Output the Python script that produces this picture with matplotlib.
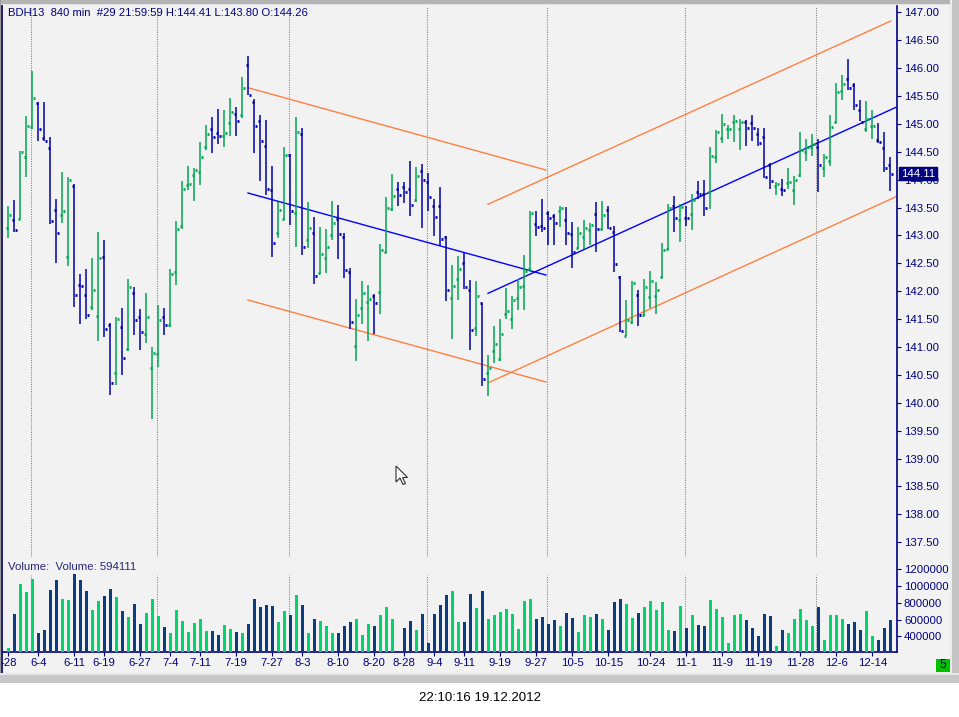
import matplotlib
matplotlib.use("Agg")
import matplotlib.pyplot as plt
from matplotlib.patches import Rectangle, Polygon
from matplotlib.transforms import blended_transform_factory
import numpy as np

plt.rcParams['font.family'] = ['Liberation Sans', 'DejaVu Sans']

# ---------------- data ----------------
opens = [143.13,143.27,143.30,144.40,144.94,145.37,144.74,144.56,143.45,143.36,
         142.62,143.88,142.12,141.94,141.71,141.55,142.61,141.39,140.53,141.35,
         140.96,141.96,141.53,141.24,140.62,140.87,141.54,141.39,142.35,143.16,
         143.90,144.09,144.13,144.58,144.90,144.83,144.78,145.01,145.17,145.15,
         146.05,145.40,145.06,144.61,143.81,143.04,143.29,144.45,143.41,144.81,
         142.91,143.04,142.32,142.59,143.00,143.29,142.97,142.34,141.02,141.70,
         141.80,141.91,141.98,142.70,143.47,143.84,143.86,143.83,143.63,144.15,
         143.96,143.53,143.53,142.98,141.87,142.21,142.50,142.02,141.34,141.78,
         140.53,140.92,140.78,141.60,141.51,141.87,142.10,142.39,143.20,143.17,
         143.40,143.35,143.43,143.27,143.02,142.77,142.98,143.09,143.38,143.11,
         143.45,143.07,142.25,141.19,141.44,141.93,141.57,141.89,141.91,142.26,
         142.75,143.52,143.27,143.32,143.38,143.77,143.75,143.77,144.40,144.74,
         144.90,145.03,144.90,145.03,145.02,144.82,144.76,144.27,143.89,143.84,
         143.94,143.81,144.09,144.50,144.58,144.58,144.20,144.33,145.03,145.59,
         145.80,145.69,145.24,144.91,144.97,144.71,144.57,144.26]
highs = [143.53,143.63,144.51,145.14,145.95,145.39,145.39,144.76,143.65,144.14,
         144.05,143.93,142.31,142.40,142.59,143.06,142.92,141.43,141.53,141.70,
         142.22,142.08,141.68,141.97,141.00,141.75,141.70,142.40,143.26,143.98,
         144.24,144.21,144.67,144.98,145.12,145.27,145.24,145.46,145.30,145.84,
         146.22,145.44,145.16,145.07,144.24,143.60,144.59,144.46,145.12,144.93,
         143.60,143.33,143.15,143.11,143.62,143.55,143.05,142.41,141.86,142.18,
         142.12,141.95,142.85,143.69,144.10,143.95,143.96,144.33,144.23,144.28,
         144.12,143.65,143.87,142.99,142.47,142.63,142.68,142.20,142.18,141.78,
         140.86,141.38,141.50,142.06,141.91,142.21,142.65,143.43,143.43,143.65,
         143.43,143.39,143.52,143.51,143.24,143.15,143.27,143.23,143.60,143.62,
         143.53,143.17,142.28,141.84,142.18,142.03,142.21,142.36,142.16,142.86,
         143.57,143.71,143.57,143.53,143.74,143.98,143.99,144.59,144.89,145.18,
         144.98,145.16,145.09,145.07,145.15,144.92,144.92,144.29,143.96,144.02,
         144.21,144.07,144.85,144.73,144.81,144.73,144.46,145.16,145.73,145.88,
         146.16,145.73,145.42,145.41,145.25,145.02,144.85,144.41]
lows = [142.96,143.07,143.29,144.04,144.90,144.70,144.69,143.21,142.51,143.23,
        142.46,141.72,141.42,141.51,141.67,141.11,141.17,140.14,140.32,140.49,
        140.92,141.21,140.95,141.08,139.70,140.65,141.21,141.35,142.11,143.11,
        143.81,143.62,143.90,144.53,144.48,144.64,144.59,144.79,144.79,145.10,
        145.51,144.48,143.98,143.72,142.62,142.96,143.27,143.19,142.80,142.65,
        142.78,142.13,142.31,142.33,142.91,142.58,142.24,141.32,140.75,141.42,
        141.11,141.23,141.59,142.68,143.43,143.52,143.59,143.35,143.60,143.14,
        143.43,142.99,142.81,141.83,141.15,141.85,142.04,140.95,141.19,140.30,
        140.13,140.72,140.74,141.50,141.32,141.67,141.67,142.34,142.99,143.07,
        142.83,142.82,143.15,142.83,142.42,142.75,142.75,142.83,142.70,143.09,
        143.11,142.34,141.26,141.19,141.42,141.38,141.56,141.69,141.60,142.24,
        142.73,143.07,142.89,143.17,143.10,143.66,143.35,143.48,144.29,144.65,
        144.73,144.68,144.54,144.61,144.70,144.60,144.03,143.84,143.72,143.71,
        143.84,143.55,144.04,144.34,144.43,143.78,144.04,144.25,145.02,145.43,
        145.61,145.25,145.06,144.86,144.73,144.65,144.13,143.80]
closes = [143.36,143.09,144.49,144.97,145.47,144.90,144.69,143.25,143.05,143.43,
          143.99,141.94,142.10,141.58,142.03,142.59,141.33,140.35,141.51,140.81,
          142.07,141.48,141.26,141.53,140.89,141.49,141.40,142.30,143.11,143.84,
          143.93,144.17,144.40,144.81,144.76,144.79,144.83,145.21,145.06,145.64,
          145.51,144.97,144.69,143.84,142.86,143.45,144.45,143.43,144.85,142.80,
          143.14,142.28,142.66,142.80,143.23,143.02,142.38,141.44,141.58,141.96,
          141.86,141.78,142.73,143.49,143.70,143.72,143.77,143.54,144.06,143.99,
          143.69,143.33,142.93,142.02,142.10,142.39,142.07,141.30,141.91,140.42,
          140.63,141.05,141.23,141.64,141.85,142.07,142.37,143.40,143.15,143.14,
          143.32,143.23,143.49,143.05,142.71,143.05,143.13,143.19,143.11,143.36,
          143.14,142.48,141.28,141.48,142.14,141.57,142.07,142.19,142.02,142.73,
          143.50,143.32,143.51,143.31,143.63,143.75,143.49,144.42,144.85,144.99,
          144.91,145.06,145.03,144.92,144.93,144.65,144.04,143.97,143.92,143.81,
          143.95,143.99,144.53,144.58,144.63,144.27,144.40,144.94,145.57,145.72,
          145.64,145.34,145.03,145.09,144.97,144.67,144.20,144.11]
volumes = [264000,670000,1028000,933000,1088000,443000,479000,957000,1072000,849000,
           837000,1148000,1076000,945000,718000,825000,885000,969000,873000,706000,
           634000,790000,551000,682000,849000,646000,515000,443000,718000,587000,
           455000,563000,607000,467000,467000,420000,535000,487000,455000,443000,
           547000,849000,754000,778000,766000,575000,706000,658000,897000,778000,
           443000,611000,587000,523000,443000,443000,527000,575000,611000,420000,
           551000,527000,658000,754000,611000,224000,503000,587000,479000,670000,
           324000,670000,778000,897000,945000,575000,575000,909000,742000,941000,
           607000,654000,690000,726000,666000,487000,822000,845000,607000,631000,
           547000,595000,523000,678000,619000,451000,654000,631000,666000,607000,
           475000,810000,845000,786000,619000,678000,750000,822000,714000,810000,
           475000,463000,762000,499000,654000,535000,523000,833000,726000,631000,
           320000,654000,666000,595000,499000,404000,666000,642000,284000,475000,
           439000,607000,726000,595000,523000,750000,356000,654000,654000,607000,
           547000,571000,475000,702000,404000,356000,499000,594111]

date_ticks = [0,5,11,16,22,27,32,38,44,49,55,61,66,71,76,82,88,94,100,107,113,119,125,132,138,144]
date_labels = ["-28","6-4","6-11","6-19","6-27","7-4","7-11","7-19","7-27","8-3","8-10",
               "8-20","8-28","9-4","9-11","9-19","9-27","10-5","10-15","10-24","11-1",
               "11-9","11-19","11-28","12-6","12-14"]
month_breaks = [3.7, 24.7, 46.7, 69.7, 89.7, 112.7, 134.7]

# drawn trend lines: (x0, y0, x1, y1) in bar index / price
orange_lines = [(39.95, 145.648, 89.6, 144.173),
                (39.95, 141.842, 89.6, 140.372),
                (79.95, 143.558, 147.07, 146.844),
                (80.1, 140.363, 147.95, 143.694)]
blue_lines = [(39.95, 143.760, 89.6, 142.290),
              (79.95, 141.962, 147.95, 145.297)]

price_ticks = [137.5 + 0.5 * i for i in range(20)]
vol_ticks = [400000, 600000, 800000, 1000000, 1200000]

# ---------------- figure ----------------
W, H = 959, 717
fig = plt.figure(figsize=(W / 100, H / 100), dpi=100)
fig.patch.set_facecolor('white')

def prect(x0, y0, x1, y1, color, z=0):
    fig.add_artist(Rectangle((x0 / W, 1 - y1 / H), (x1 - x0) / W, (y1 - y0) / H,
                             transform=fig.transFigure, facecolor=color,
                             edgecolor='none', zorder=z))

prect(0, 0, 959, 673, '#f2f2f2', -10)
prect(0, 0, 959, 4, '#b4b4b4', -9)
prect(0, 4, 959, 5, '#e4e4e4', -9)
prect(0, 0, 1, 673, '#9a9a9a', -9)
prect(1, 5, 3, 673, '#23237a', -9)
prect(950, 0, 952, 683, '#ececec', -9)
prect(952, 0, 959, 683, '#c4c4c4', -9)
prect(0, 673, 959, 675, '#e8e8e8', -9)
prect(0, 675, 959, 683, '#c8c8c8', -9)

NAVY = '#000080'
GREEN_P = '#00a651'
BLUE_P = '#0000aa'
GREEN_V = '#00d46a'
BLUE_V = '#0b3c80'
ORANGE = '#ff8040'

xl = ((3 - 8.3) / 6, (897 - 8.3) / 6)

ax = fig.add_axes([3 / W, 1 - 557 / H, 894 / W, 551 / H])
ax.set_facecolor('none')
ax.set_xlim(*xl)
ax.set_ylim(147 - (557 - 12.3) / 55.78, 147 - (6 - 12.3) / 55.78)

x = np.arange(len(opens))
o = np.array(opens); h = np.array(highs); l = np.array(lows); c = np.array(closes)
up = c >= o
cols = np.where(up, GREEN_P, BLUE_P)

for xb in month_breaks:
    ax.axvline(xb, color='#7a7a7a', lw=0.75, ls=(0, (1, 1.3)), zorder=1)

for (x0, y0, x1, y1) in orange_lines:
    ax.plot([x0, x1], [y0, y1], color=ORANGE, lw=1.0, zorder=2)
for (x0, y0, x1, y1) in blue_lines:
    ax.plot([x0, x1], [y0, y1], color='#0000ff', lw=1.0, zorder=2)

ax.vlines(x, l, h, colors=cols, lw=1.1, zorder=3)
ax.hlines(o, x - 0.45, x - 0.05, colors=cols, lw=2.0, zorder=3)
ax.hlines(c, x + 0.05, x + 0.45, colors=cols, lw=2.0, zorder=3)

for s in ['left', 'top', 'bottom']:
    ax.spines[s].set_visible(False)
ax.spines['right'].set_color(NAVY)
ax.spines['right'].set_linewidth(1.2)
ax.set_xticks([])
ax.yaxis.tick_right()
ax.set_yticks(price_ticks)
ax.set_yticklabels([f"{v:.2f}" for v in price_ticks])
ax.tick_params(axis='y', direction='out', length=3, width=0.8, color=NAVY,
               labelcolor=NAVY, labelsize=8.2, pad=2)

tr = blended_transform_factory(ax.transAxes, ax.transData)
ax.text(1.0045, closes[-1], f"{closes[-1]:.2f}", transform=tr, color='white',
        fontsize=8.2, va='center', ha='left', zorder=5,
        bbox=dict(boxstyle='square,pad=0.15', fc=NAVY, ec=NAVY))

# ---------------- volume panel ----------------
ax2 = fig.add_axes([3 / W, 1 - 652 / H, 894 / W, 94 / H])
ax2.set_facecolor('none')
ax2.set_xlim(*xl)
vb = 400000 - (652 - 636.3) / 16.75 * 200000
vt = 400000 + (636.3 - 558) / 16.75 * 200000
ax2.set_ylim(vb, vt)
vcols = np.where(up, GREEN_V, BLUE_V)
ax2.bar(x, volumes, width=0.5, bottom=0, color=vcols, zorder=3)
for xb in month_breaks:
    ax2.axvline(xb, ymax=0.82, color='#7a7a7a', lw=0.75, ls=(0, (1, 1.3)), zorder=1)
ax2.spines['left'].set_visible(False)
ax2.spines['top'].set_visible(False)
ax2.spines['right'].set_color(NAVY)
ax2.spines['right'].set_linewidth(1.2)
ax2.spines['bottom'].set_color(NAVY)
ax2.spines['bottom'].set_linewidth(1.2)
ax2.yaxis.tick_right()
ax2.set_yticks(vol_ticks)
ax2.set_yticklabels([str(v) for v in vol_ticks])
ax2.tick_params(axis='y', direction='out', length=3, width=0.8, color=NAVY,
                labelcolor=NAVY, labelsize=8.2, pad=2)
ax2.set_xticks(date_ticks)
ax2.set_xticklabels(date_labels)
ax2.tick_params(axis='x', direction='out', length=3, width=0.8, color=NAVY,
                labelcolor=NAVY, labelsize=8.2, pad=1.5)

ax2.text(5 / 894, 1 - (567 - 558) / 94, "Volume:  Volume: 594111", transform=ax2.transAxes,
         color='#26267a', fontsize=8.2, va='center', ha='left')

# ---------------- header / misc text ----------------
fig.text(8 / W, 1 - 13.5 / H, "BDH13  840 min  #29 21:59:59 H:144.41 L:143.80 O:144.26",
         color=NAVY, fontsize=8.1, va='center', ha='left')

prect(936, 659, 950, 672, '#00c000', 1)
fig.text(943 / W, 1 - 665.5 / H, "5", color='#000060', fontsize=8.5, va='center', ha='center', zorder=2)

fig.text(480 / W, 1 - 698 / H, "22:10:16 19.12.2012", color='black', fontsize=9.5,
         va='center', ha='center')

# mouse pointer seen in the screenshot
cur = np.array([(0, 0), (0, 16), (4, 12), (7, 18.5), (9.5, 17.5), (6.5, 11.5), (11.5, 11.5)])
cur = cur + np.array([396, 466])
fig.add_artist(Polygon([(px / W, 1 - py / H) for px, py in cur], closed=True,
                       transform=fig.transFigure, facecolor='white',
                       edgecolor='#303030', lw=0.8, zorder=6))

fig.savefig("out.png", dpi=100)
